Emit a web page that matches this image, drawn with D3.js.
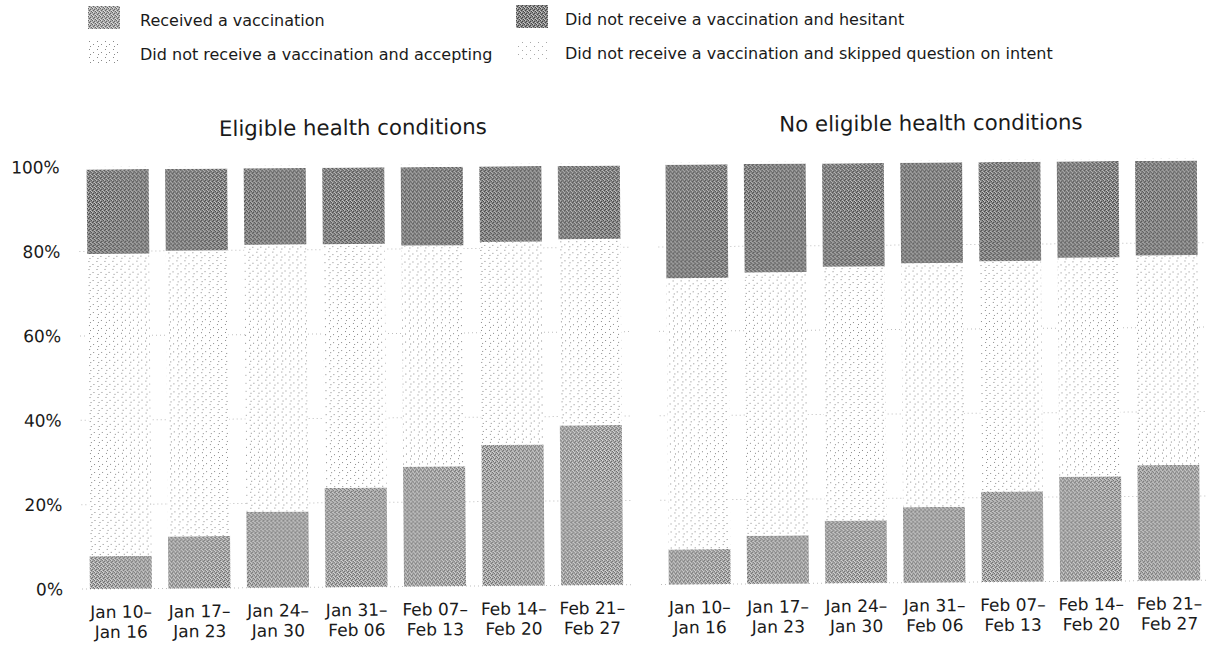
<!DOCTYPE html>
<html>
<head>
<meta charset="utf-8">
<script src="https://cdn.jsdelivr.net/npm/d3@7"></script>
<style>
  html, body { margin: 0; padding: 0; background: #fff; }
  svg { display: block; }
  text { font-family: "DejaVu Sans", "Liberation Sans", sans-serif; fill: #1a1a1a; }
</style>
</head>
<body>
<svg id="chart" width="1211" height="659"></svg>
<script>
// ---- data ----
const weeksLine1 = ["Jan 10\u2013", "Jan 17\u2013", "Jan 24\u2013", "Jan 31\u2013", "Feb 07\u2013", "Feb 14\u2013", "Feb 21\u2013"];
const weeksLine2 = ["Jan 16", "Jan 23", "Jan 30", "Feb 06", "Feb 13", "Feb 20", "Feb 27"];

const panelTitles = ["Eligible health conditions", "No eligible health conditions"];

const seriesNames = [
  "Received a vaccination",
  "Did not receive a vaccination and accepting",
  "Did not receive a vaccination and hesitant",
  "Did not receive a vaccination and skipped question on intent"
];

const eligibleReceived  = [7.8, 12.3, 18.0, 23.5, 28.4, 33.4, 37.9];
const eligibleAccepting = [71.6, 67.7, 63.3, 57.8, 52.4, 48.1, 44.1];
const eligibleHesitant  = [20.0, 19.4, 18.1, 18.1, 18.6, 17.9, 17.4];
const eligibleSkipped   = [0.6, 0.6, 0.6, 0.6, 0.6, 0.6, 0.6];

const noEligibleReceived  = [8.3, 11.4, 14.8, 17.9, 21.4, 24.8, 27.4];
const noEligibleAccepting = [64.3, 62.4, 60.2, 57.8, 54.6, 51.9, 49.7];
const noEligibleHesitant  = [26.9, 25.7, 24.5, 23.8, 23.5, 22.8, 22.4];
const noEligibleSkipped   = [0.5, 0.5, 0.5, 0.5, 0.5, 0.5, 0.5];

const yTicks = [0, 20, 40, 60, 80, 100];
const yTickLabels = ["0%", "20%", "40%", "60%", "80%", "100%"];

// ---- build tables ----
const keys = ["received", "accepting", "hesitant", "skipped"];
function buildRows(rec, acc, hes, skp) {
  return weeksLine1.map((w, i) => ({
    week: w, received: rec[i], accepting: acc[i], hesitant: hes[i], skipped: skp[i]
  }));
}
const panels = [
  { title: panelTitles[0], rows: buildRows(eligibleReceived, eligibleAccepting, eligibleHesitant, eligibleSkipped), range: [80, 629], axis: true },
  { title: panelTitles[1], rows: buildRows(noEligibleReceived, noEligibleAccepting, noEligibleHesitant, noEligibleSkipped), range: [659, 1206], axis: false }
];

const svg = d3.select("#chart");

// patterns (imitating the scanned halftone)
const defs = svg.append("defs");
function dotPattern(id, size, dots, color) {
  const p = defs.append("pattern").attr("id", id).attr("patternUnits", "userSpaceOnUse")
    .attr("width", size).attr("height", size);
  p.append("rect").attr("width", size).attr("height", size).attr("fill", "#ffffff");
  dots.forEach(d => p.append("rect").attr("x", d[0]).attr("y", d[1]).attr("width", 1).attr("height", 1).attr("fill", color));
}
dotPattern("pAccept", 8, [[1, 1], [5, 4], [2, 6]], "#8a8a8a");
dotPattern("pSkip", 8, [[2, 2], [6, 6]], "#a8a8a8");

function ditherPattern(id, base, dark, light) {
  const p = defs.append("pattern").attr("id", id).attr("patternUnits", "userSpaceOnUse")
    .attr("width", 4).attr("height", 4);
  p.append("rect").attr("width", 4).attr("height", 4).attr("fill", base);
  [[0, 0], [2, 1], [1, 2], [3, 3]].forEach(d => p.append("rect").attr("x", d[0]).attr("y", d[1]).attr("width", 1).attr("height", 1).attr("fill", dark));
  [[1, 0], [3, 2], [0, 3]].forEach(d => p.append("rect").attr("x", d[0]).attr("y", d[1]).attr("width", 1).attr("height", 1).attr("fill", light));
}
ditherPattern("pRec", "#adadad", "#666666", "#dedede");
ditherPattern("pHes", "#8a8a8a", "#444444", "#c8c8c8");

const fills = { received: "url(#pRec)", accepting: "url(#pAccept)", hesitant: "url(#pHes)", skipped: "url(#pSkip)" };

// main group with slight scan tilt
const g = svg.append("g").attr("transform", "rotate(-0.45, 605, 330)");

const y = d3.scaleLinear().domain([0, 100]).range([585, 163]);
const stack = d3.stack().keys(keys);

panels.forEach(panel => {
  const x = d3.scaleBand().domain(panel.rows.map(r => r.week)).range(panel.range)
    .paddingInner(0.21).paddingOuter(0.1);
  const pg = g.append("g");

  // gridlines
  pg.append("g").selectAll("line").data(yTicks.slice(0, 5)).join("line")
    .attr("x1", panel.range[0]).attr("x2", panel.range[1])
    .attr("y1", d => y(d)).attr("y2", d => y(d))
    .attr("stroke", "#bdbdbd").attr("stroke-width", 1).attr("stroke-dasharray", "1,3");

  // bars
  const series = stack(panel.rows);
  pg.append("g").selectAll("g").data(series).join("g")
    .attr("fill", d => fills[d.key])
    .selectAll("rect").data(d => d).join("rect")
    .attr("x", d => x(d.data.week))
    .attr("width", x.bandwidth())
    .attr("y", d => y(d[1]))
    .attr("height", d => y(d[0]) - y(d[1]));

  // title
  pg.append("text")
    .attr("x", (panel.range[0] + panel.range[1]) / 2).attr("y", 133)
    .attr("text-anchor", "middle").attr("font-size", 21.3)
    .text(panel.title);

  // x axis labels (two lines)
  const xAxis = d3.axisBottom(x).tickSize(0).tickFormat("");
  const ax = pg.append("g").attr("transform", "translate(0,585)").call(xAxis);
  ax.select(".domain").remove();
  ax.selectAll(".tick").each(function(d, i) {
    const t = d3.select(this).append("text").attr("text-anchor", "middle")
      .attr("font-size", 17).attr("fill", "#1a1a1a");
    t.append("tspan").attr("x", 0).attr("y", 29).text(weeksLine1[i]);
    t.append("tspan").attr("x", 0).attr("y", 49).text(weeksLine2[i]);
  });

  // y axis
  if (panel.axis) {
    const yAxis = d3.axisLeft(y).tickValues(yTicks).tickSize(0)
      .tickFormat((d, i) => yTickLabels[i]);
    const ay = pg.append("g").attr("transform", "translate(61,0)").call(yAxis);
    ay.select(".domain").remove();
    ay.selectAll("text").attr("font-size", 17).attr("x", 0).attr("fill", "#1a1a1a")
      .style("font-family", "'DejaVu Sans', sans-serif");
  }
});

// legend
const legendItems = [
  { key: "received", x: 88, y: 6, tx: 140, ty: 20 },
  { key: "accepting", x: 88, y: 40, tx: 140, ty: 54 },
  { key: "hesitant", x: 516, y: 5, tx: 565, ty: 19 },
  { key: "skipped", x: 516, y: 39, tx: 565, ty: 53 }
];
const lg = svg.append("g");
legendItems.forEach((it, i) => {
  lg.append("rect").attr("x", it.x).attr("y", it.y).attr("width", 32).attr("height", 23)
    .attr("fill", fills[it.key]);
  lg.append("text").attr("x", it.tx).attr("y", it.ty).attr("dy", "0.35em")
    .attr("font-size", 16).text(seriesNames[i]);
});
</script>
</body>
</html>
